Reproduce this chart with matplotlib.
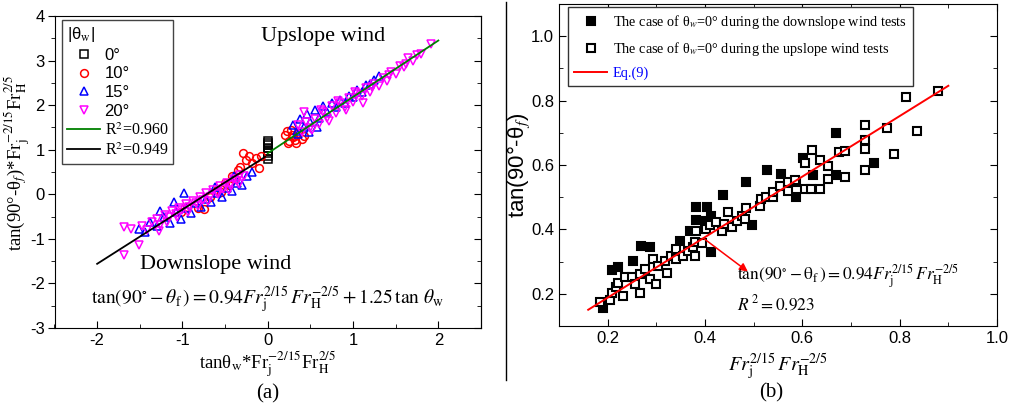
import matplotlib.pyplot as plt
import numpy as np
from matplotlib.lines import Line2D
from matplotlib.ticker import MultipleLocator

plt.rcParams['font.family'] = ['Liberation Sans', 'DejaVu Sans']
plt.rcParams['mathtext.fontset'] = 'stix'
plt.rcParams['axes.unicode_minus'] = False
serif = ['Liberation Serif', 'DejaVu Serif']

# ---- panel (a) data ----
sq0_x = [0, 0, 0, 0, 0, 0, 0, 0]
sq0_y = [0.80, 0.86, 0.92, 0.98, 1.04, 1.10, 1.16, 1.20]

red_down_x = [-1.02, -0.95, -0.82, -0.75, -0.68, -0.60, -0.55, -0.50, -0.45, -0.42,
              -0.38, -0.35, -0.32, -0.29, -0.26, -0.22, -0.18, -0.14, -0.10, -0.08]
red_down_y = [-0.40, -0.28, -0.30, -0.32, -0.05, 0.10, 0.05, 0.25, 0.20, 0.42,
              0.35, 0.55, 0.62, 0.92, 0.78, 0.85, 0.70, 0.82, 0.60, 0.87]
red_up_x = [0.20, 0.22, 0.25, 0.27, 0.30, 0.33, 0.36, 0.40, 0.24, 0.28, 0.32, 0.42]
red_up_y = [1.32, 1.42, 1.20, 1.45, 1.28, 1.16, 1.38, 1.25, 1.15, 1.33, 1.22, 1.30]

blue_down_x = [-1.51, -1.44, -1.38, -1.30, -1.22, -1.15, -1.08, -1.02, -0.96, -0.90,
               -0.84, -0.78, -0.72, -0.66, -0.60, -0.54, -0.48, -0.42, -0.36, -0.30,
               -0.24, -0.18, -1.26, -1.10, -0.98, -0.62, -0.40]
blue_down_y = [-0.77, -0.84, -0.62, -0.72, -0.50, -0.65, -0.40, -0.55, -0.30, -0.42,
               -0.20, -0.28, -0.10, -0.18, 0.02, -0.06, 0.14, 0.08, 0.26, 0.20,
               0.40, 0.50, -0.38, -0.18, 0.04, 0.16, 0.42]
blue_up_x = [0.30, 0.34, 0.38, 0.42, 0.46, 0.50, 0.55, 0.60, 0.65, 0.70, 0.75, 0.80,
             0.85, 0.90, 0.95, 1.00, 1.05, 1.10, 1.15, 1.20, 1.25, 1.30, 0.36, 0.48, 0.58]
blue_up_y = [1.55, 1.42, 1.70, 1.50, 1.80, 1.62, 1.90, 1.72, 1.98, 1.85, 2.05, 1.95,
             2.12, 2.05, 2.20, 2.18, 2.35, 2.30, 2.45, 2.48, 2.56, 2.65, 1.35, 1.40, 1.52]

mag_down_x = [-1.69, -1.51, -1.69, -1.60, -1.48, -1.42, -1.36, -1.30, -1.26, -1.20,
              -1.16, -1.12, -1.08, -1.04, -1.00, -0.96, -0.92, -0.88, -0.84, -0.80,
              -0.76, -0.72, -0.68, -0.64, -0.60, -0.56, -0.52, -0.48, -0.44, -0.40,
              -0.36, -0.32, -0.28, -1.28, -1.18, -1.06, -0.94, -0.82, -0.70, -0.58,
              -0.46, -0.34]
mag_down_y = [-0.74, -1.14, -1.37, -0.78, -0.72, -0.80, -0.62, -0.55, -0.70, -0.46,
              -0.52, -0.38, -0.45, -0.30, -0.36, -0.22, -0.28, -0.14, -0.20, -0.05,
              -0.12, 0.02, -0.06, 0.10, 0.04, 0.18, 0.12, 0.26, 0.20, 0.34,
              0.30, 0.44, 0.40, -0.82, -0.62, -0.50, -0.40, -0.26, -0.16, 0.00,
              0.10, 0.24]
mag_up_x = [0.36, 0.40, 0.45, 0.50, 0.55, 0.60, 0.65, 0.70, 0.75, 0.80, 0.85, 0.90,
            0.95, 1.00, 1.05, 1.10, 1.15, 1.20, 1.25, 1.30, 1.35, 1.40, 1.45, 1.50,
            1.55, 1.60, 1.65, 1.70, 1.75, 1.80, 1.91, 0.42, 0.52, 0.62, 0.72, 0.82,
            0.92, 1.02, 1.12, 1.22, 1.42, 1.62]
mag_up_y = [1.55, 1.40, 1.62, 1.48, 1.70, 1.58, 1.85, 1.72, 1.98, 1.82, 2.05, 1.95,
            2.15, 2.08, 2.25, 2.20, 2.38, 2.30, 2.48, 2.42, 2.62, 2.55, 2.75, 2.70,
            2.88, 2.85, 3.05, 3.00, 3.12, 3.15, 3.38, 1.85, 1.45, 1.90, 1.65, 2.10,
            1.88, 2.30, 2.05, 2.40, 2.68, 2.92]

# fit lines (endpoints)
fit_up_x = [0.0, 2.0]
fit_up_y = [0.92, 3.45]
fit_down_x = [-2.0, -0.03]
fit_down_y = [-1.56, 0.84]

# ---- panel (b) data ----
down_x = [0.190, 0.209, 0.221, 0.252, 0.268, 0.288, 0.348, 0.369, 0.381, 0.404,
          0.382, 0.413, 0.399, 0.412, 0.437, 0.485, 0.497, 0.528, 0.557, 0.588,
          0.586, 0.601, 0.621, 0.670, 0.670, 0.747]
down_y = [0.157, 0.274, 0.282, 0.301, 0.349, 0.346, 0.365, 0.394, 0.471, 0.471,
          0.430, 0.443, 0.425, 0.331, 0.508, 0.547, 0.415, 0.585, 0.571, 0.547,
          0.500, 0.621, 0.570, 0.568, 0.699, 0.606]
up_x = [0.184, 0.204, 0.209, 0.218, 0.231, 0.221, 0.235, 0.249, 0.256, 0.266,
        0.266, 0.276, 0.286, 0.299, 0.293, 0.303, 0.317, 0.321, 0.331, 0.341,
        0.341, 0.355, 0.365, 0.375, 0.379, 0.379, 0.381, 0.393, 0.403, 0.410,
        0.423, 0.434, 0.440, 0.447, 0.456, 0.465, 0.475, 0.485, 0.482, 0.512,
        0.516, 0.525, 0.540, 0.540, 0.555, 0.571, 0.571, 0.584, 0.605, 0.617,
        0.636, 0.606, 0.619, 0.636, 0.653, 0.653, 0.676, 0.687, 0.687, 0.728,
        0.728, 0.728, 0.728, 0.773, 0.788, 0.812, 0.879, 0.836]
up_y = [0.173, 0.180, 0.204, 0.220, 0.194, 0.235, 0.251, 0.251, 0.230, 0.204,
        0.261, 0.277, 0.246, 0.230, 0.308, 0.287, 0.303, 0.266, 0.318, 0.339,
        0.308, 0.318, 0.334, 0.344, 0.318, 0.360, 0.394, 0.357, 0.401, 0.415,
        0.422, 0.396, 0.417, 0.455, 0.409, 0.427, 0.443, 0.467, 0.433, 0.474,
        0.495, 0.500, 0.502, 0.516, 0.536, 0.547, 0.519, 0.552, 0.524, 0.524,
        0.524, 0.606, 0.648, 0.617, 0.596, 0.557, 0.641, 0.642, 0.564, 0.723,
        0.677, 0.651, 0.585, 0.716, 0.633, 0.812, 0.830, 0.705]
eq9_x = [0.16, 0.90]
eq9_slope = 0.94

W, H = 1011, 411
fig = plt.figure(figsize=(W / 100, H / 100), dpi=100)

# ================= panel (a) =================
ax1 = fig.add_axes([54.5 / W, 1 - 328 / H, 426.5 / W, 312 / H])
ax1.set_xlim(-2.5, 2.5)
ax1.set_ylim(-3, 4)

ms = 5.6
kw = dict(linestyle='none', markerfacecolor='none', markersize=ms, markeredgewidth=1.1)
ax1.plot(fit_up_x, fit_up_y, color='#008000', lw=1.3, zorder=3)
ax1.plot(fit_down_x, fit_down_y, color='black', lw=1.3, zorder=3)
ax1.plot(sq0_x, sq0_y, marker='s', markeredgecolor='black', **kw)
ax1.plot(red_down_x + red_up_x, red_down_y + red_up_y, marker='o', markeredgecolor='red', **kw)
ax1.plot(blue_down_x + blue_up_x, blue_down_y + blue_up_y, marker='^', markeredgecolor='blue', **kw)
ax1.plot(mag_down_x + mag_up_x, mag_down_y + mag_up_y, marker='v', markeredgecolor='magenta', **kw)

ax1.xaxis.set_major_locator(MultipleLocator(1))
ax1.xaxis.set_minor_locator(MultipleLocator(0.5))
ax1.yaxis.set_major_locator(MultipleLocator(1))
ax1.yaxis.set_minor_locator(MultipleLocator(0.5))
ax1.tick_params(axis='x', which='both', direction='in', labelsize=12)
ax1.tick_params(axis='y', which='both', direction='out', labelsize=12, pad=2)
ax1.tick_params(which='major', length=5)
ax1.tick_params(which='minor', length=3)
ax1r = ax1.secondary_yaxis('right')
ax1r.yaxis.set_major_locator(MultipleLocator(1))
ax1r.yaxis.set_minor_locator(MultipleLocator(0.5))
ax1r.tick_params(which='both', direction='in', labelright=False)
ax1r.tick_params(which='major', length=5)
ax1r.tick_params(which='minor', length=3)

ax1.set_ylabel('tan(90°-θ' + r'$_f$' + ')*Fr' + r'$_\mathrm{j}^{-2/15}$' + 'Fr'
               + r'$_\mathrm{H}^{2/5}$', family=serif, fontsize=13.5)
ax1.yaxis.set_label_coords(-0.053, 0.53)
ax1.set_xlabel('tanθ' + r'$_\mathrm{w}$' + '*Fr' + r'$_\mathrm{j}^{-2/15}$' + 'Fr'
               + r'$_\mathrm{H}^{2/5}$', family=serif, fontsize=13.5, labelpad=1)

ax1.text(0.63, 0.935, 'Upslope wind', transform=ax1.transAxes, family=serif,
         fontsize=16, ha='center', va='center')
ax1.text(0.2, 0.205, 'Downslope wind', transform=ax1.transAxes, family=serif,
         fontsize=16, ha='left', va='center')
ax1.text(0.5, 0.092, r'$\tan(90^{\circ}-\theta_{\rm f}\,)=0.94Fr_{\rm j}^{2/15}\,Fr_{\rm H}^{-2/5}'
         r'+1.25\,\tan\,\theta_{\rm w}$', transform=ax1.transAxes, fontsize=14,
         ha='center', va='center')

h1 = [Line2D([], [], marker='s', markeredgecolor='black', **kw),
      Line2D([], [], marker='o', markeredgecolor='red', **kw),
      Line2D([], [], marker='^', markeredgecolor='blue', **kw),
      Line2D([], [], marker='v', markeredgecolor='magenta', **kw),
      Line2D([], [], color='#008000', lw=1.3),
      Line2D([], [], color='black', lw=1.3)]
l1 = ['0°', '10°', '15°', '20°', r'R$^2$=0.960', r'R$^2$=0.949']
leg1 = ax1.legend(h1, l1, loc='upper left', bbox_to_anchor=(0.0176, 0.987),
                  borderaxespad=0, fancybox=False, edgecolor='#444444', fontsize=12,
                  title='|θ' + r'$_\mathrm{w}$' + '|', title_fontsize=12,
                  handlelength=2.0, handletextpad=0.25, labelspacing=0.22,
                  borderpad=0.3, framealpha=1)
leg1.get_frame().set_linewidth(1.0)
leg1._legend_box.align = 'left'
for t in leg1.get_texts()[4:]:
    t.set_fontfamily(serif)
    t.set_fontsize(11.5)

# ================= panel (b) =================
ax2 = fig.add_axes([559 / W, 1 - 326 / H, 438 / W, 322 / H])
ax2.set_xlim(0.1, 1.0)
ax2.set_ylim(0.1, 1.1)

kb = dict(linestyle='none', marker='s', markersize=6, markeredgewidth=1.5,
          markeredgecolor='black')
ax2.plot(eq9_x, [eq9_slope * v for v in eq9_x], color='red', lw=1.4, zorder=3)
ax2.plot(down_x, down_y, markerfacecolor='black', **kb)
ax2.plot(up_x, up_y, markerfacecolor='white', **kb)

ax2.annotate('', xy=(0.488, 0.269), xytext=(0.399, 0.370),
             arrowprops=dict(arrowstyle='-|>', color='red', lw=1.1,
                             mutation_scale=12, shrinkA=0, shrinkB=0))
ax2.text(0.465, 0.254, r'$\tan(90^{\circ}-\mathrm{\theta_f}\,)=0.94Fr_{\rm j}^{2/15}\,Fr_{\rm H}^{-2/5}$',
         fontsize=12.5, ha='left', va='center')
ax2.text(0.465, 0.172, r'$R^{\,2}=0.923$', fontsize=12.5, ha='left', va='center')

ax2.xaxis.set_major_locator(MultipleLocator(0.2))
ax2.xaxis.set_minor_locator(MultipleLocator(0.1))
ax2.yaxis.set_major_locator(MultipleLocator(0.2))
ax2.yaxis.set_minor_locator(MultipleLocator(0.1))
ax2.xaxis.set_major_formatter(lambda v, p: f'{v:.1f}')
ax2.yaxis.set_major_formatter(lambda v, p: f'{v:.1f}')
ax2.tick_params(which='both', direction='in', top=True, right=True, labelsize=12)
ax2.tick_params(which='major', length=5)
ax2.tick_params(which='minor', length=3)

ax2.set_ylabel('tan(90°-θ' + r'$_{f}$' + ')', fontsize=16, labelpad=-1)
ax2.set_xlabel(r'$Fr_{\rm j}^{2/15}\,Fr_{\rm H}^{-2/5}$', fontsize=14.5, labelpad=4)

h2 = [Line2D([], [], markerfacecolor='black', **kb),
      Line2D([], [], markerfacecolor='white', **kb),
      Line2D([], [], color='red', lw=1.4)]
l2 = ['The case of θ' + r'$_w$' + '=0° during the downslope wind tests',
      'The case of θ' + r'$_w$' + '=0° during the upslope wind tests',
      'Eq.(9)']
leg2 = ax2.legend(h2, l2, loc='upper left', bbox_to_anchor=(0.0205, 0.991),
                  borderaxespad=0, fancybox=False, edgecolor='#333333',
                  prop={'family': serif, 'size': 10.3}, handlelength=2.3,
                  handletextpad=0.4, labelspacing=0.6, borderpad=0.45,
                  framealpha=1)
leg2.get_frame().set_linewidth(1.0)
leg2.get_texts()[2].set_color('blue')

# panel captions and separator
fig.text(268 / W, 1 - 394 / H, '(a)', family=serif, fontsize=15, ha='center', va='center')
fig.text(771 / W, 1 - 393 / H, '(b)', family=serif, fontsize=15, ha='center', va='center')
fig.add_artist(Line2D([506 / W, 506 / W], [1 - 2 / H, 1 - 380 / H], color='black', lw=1.0))

fig.savefig('out.png', dpi=100)
